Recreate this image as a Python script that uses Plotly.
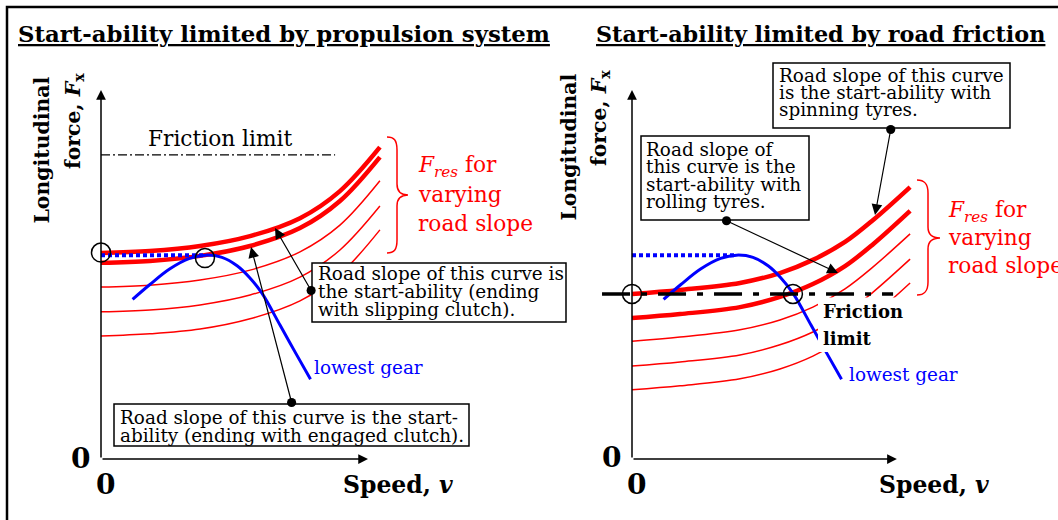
import plotly.graph_objects as go

W, H = 1058, 520

# ---------------- data (schematic units: speed v, longitudinal force F) ----------------
L_SPEED = [0, 18.1, 36.7, 55.2, 73.7, 88.5, 103.3]
L_FRES_THICK = [
    [56.3, 56.8, 58.2, 60.9, 65.8, 73.2, 85.2],
    [53.6, 54.1, 55.5, 58.2, 63.1, 70.5, 82.5],
]
L_FRES_THIN = [
    [47.0, 47.5, 48.9, 51.6, 56.6, 63.9, 76.0],
    [40.2, 40.7, 42.1, 44.8, 49.7, 57.1, 69.1],
    [33.6, 34.2, 35.5, 38.3, 43.2, 50.5, 62.6],
]
R_SPEED = [0, 17.8, 40.0, 54.8, 67.0, 78.9, 89.3, 103.0]
R_FRES_THICK = [
    [45.1, 46.2, 48.1, 50.8, 54.4, 59.3, 65.3, 74.3],
    [38.5, 39.6, 41.5, 44.3, 47.8, 52.7, 58.7, 67.8],
]
R_FRES_THIN = [
    [32.2, 33.3, 35.3, 38.0, 41.5, 46.5, 52.5, 61.5],
    [25.4, 26.5, 28.4, 31.2, 34.7, 39.6, 45.6, 54.6],
    [18.9, 20.0, 21.9, 24.6, 28.1, 33.1, 39.1, 48.1],
]
GEAR_SPEED = [11.7, 18.0, 25.4, 32.8, 38.7, 44.8, 50.4, 55.0, 59.6, 66.3, 71.9, 77.6]
GEAR_FORCE = [43.6, 47.6, 51.9, 54.8, 55.7, 55.1, 52.8, 49.6, 45.3, 36.6, 29.2, 21.8]
PEAK_SPEED = [0, 38.7]
PEAK_FORCE = [55.7, 55.7]
L_FRICTION_SPEED = [0, 86.7]
L_FRICTION_FORCE = [83.1, 83.1]
R_FRICTION_SPEED = [-11.1, 96.7]
R_FRICTION_FORCE = [45.1, 45.1]
L_CIRCLE_SPEED = [0, 38.5]
L_CIRCLE_FORCE = [56.4, 54.9]
R_CIRCLE_SPEED = [0, 59.6]
R_CIRCLE_FORCE = [45.1, 45.1]
AXIS_SPEED_MAX = [98.9, 98.1]
AXIS_FORCE_MAX = 100.8

# ---------------- layout helpers ----------------
XS, YS = 2.7, 3.66          # px per unit
L_ORIGIN, R_ORIGIN, Y_ORIGIN = 101, 632, 459

def X(p):
    return p / W

def Y(p):
    return 1 - p / H

RED, BLUE, BLACK = "#ff0000", "#0000ff", "#000000"
SERIF = "DejaVu Serif"

fig = go.Figure()

def add_line(x, y, xa, color, width, dash=None, shape="spline"):
    fig.add_trace(go.Scatter(x=x, y=y, xaxis=xa, yaxis="y", mode="lines",
                             line=dict(color=color, width=width, dash=dash, shape=shape),
                             hoverinfo="skip", showlegend=False))

# left panel
for ys in L_FRES_THIN:
    add_line(L_SPEED, ys, "x", RED, 1.5)
for ys in L_FRES_THICK:
    add_line(L_SPEED, ys, "x", RED, 4.5)
add_line(L_FRICTION_SPEED, L_FRICTION_FORCE, "x", BLACK, 1.2, "9px,3px,2px,3px", "linear")
add_line(GEAR_SPEED, GEAR_FORCE, "x", BLUE, 3)
add_line(PEAK_SPEED, PEAK_FORCE, "x", BLUE, 4, "4px,3px", "linear")
fig.add_trace(go.Scatter(x=L_CIRCLE_SPEED, y=L_CIRCLE_FORCE, xaxis="x", yaxis="y", mode="markers",
                         marker=dict(symbol="circle-open", size=19, color=BLACK, line=dict(width=1.5, color=BLACK)),
                         hoverinfo="skip", showlegend=False))

# right panel
for ys in R_FRES_THIN:
    add_line(R_SPEED, ys, "x2", RED, 1.5)
for ys in R_FRES_THICK:
    add_line(R_SPEED, ys, "x2", RED, 4.5)
add_line(GEAR_SPEED, GEAR_FORCE, "x2", BLUE, 3)
add_line(PEAK_SPEED, PEAK_FORCE, "x2", BLUE, 4, "4px,3px", "linear")
add_line(R_FRICTION_SPEED, R_FRICTION_FORCE, "x2", BLACK, 3.5, "28px,11px,6px,11px", "linear")
fig.add_trace(go.Scatter(x=R_CIRCLE_SPEED, y=R_CIRCLE_FORCE, xaxis="x2", yaxis="y", mode="markers",
                         marker=dict(symbol="circle-open", size=19, color=BLACK, line=dict(width=1.5, color=BLACK)),
                         hoverinfo="skip", showlegend=False))

annotations = []
shapes = []

def text(px, py, s, size, color=BLACK, xanchor="left", yanchor="middle", angle=0, bg=None):
    a = dict(x=X(px), y=Y(py), xref="paper", yref="paper", text=s, showarrow=False,
             xanchor=xanchor, yanchor=yanchor, textangle=angle,
             font=dict(family=SERIF, size=size, color=color))
    if bg:
        a["bgcolor"] = bg
    annotations.append(a)

def callout(xa, hx, hy, ax, ay):
    annotations.append(dict(x=hx, y=hy, xref=xa, yref="y", ax=ax, ay=ay, axref="pixel", ayref="pixel",
                            text="", showarrow=True, arrowhead=2, arrowsize=1.8, arrowwidth=1.2,
                            arrowcolor=BLACK, arrowside="end+start", startarrowhead=6, startarrowsize=1.9,
                            standoff=0, startstandoff=0))

def axis_arrow(xa, hx, hy):
    annotations.append(dict(x=hx, y=hy, xref=xa, yref="y", ax=0, ay=0, axref=xa, ayref="y",
                            text="", showarrow=True, arrowhead=2, arrowsize=1.3, arrowwidth=1.5,
                            arrowcolor=BLACK, standoff=0))

def rect(x0, y0, x1, y1, lw=1.5, fill="white"):
    shapes.append(dict(type="rect", xref="paper", yref="paper", x0=X(x0), x1=X(x1), y0=Y(y0), y1=Y(y1),
                       line=dict(color=BLACK, width=lw), fillcolor=fill, layer="above"))

def brace(x0, ytop, ybot, xmid, xtip, ytip):
    pts = lambda x, y: f"{X(x):.5f},{Y(y):.5f}"
    path = ("M" + pts(x0, ytop) +
            " C" + pts(x0 + 7, ytop) + " " + pts(xmid, ytop + 3) + " " + pts(xmid, ytop + 13) +
            " L" + pts(xmid, ytip - 11) +
            " C" + pts(xmid, ytip - 3) + " " + pts(xmid + 4, ytip) + " " + pts(xtip, ytip) +
            " C" + pts(xmid + 4, ytip) + " " + pts(xmid, ytip + 3) + " " + pts(xmid, ytip + 11) +
            " L" + pts(xmid, ybot - 13) +
            " C" + pts(xmid, ybot - 3) + " " + pts(x0 + 7, ybot) + " " + pts(x0, ybot))
    shapes.append(dict(type="path", xref="paper", yref="paper", path=path,
                       line=dict(color=RED, width=1.5), layer="above"))

# border
shapes.append(dict(type="rect", xref="paper", yref="paper", x0=X(7), x1=X(1080), y0=Y(7), y1=Y(560),
                   line=dict(color=BLACK, width=2.5), fillcolor="rgba(0,0,0,0)", layer="above"))

# titles
text(16, 34.5, "<b><u>Start-ability limited by propulsion system</u></b>", 22.8)
text(594, 34.5, "<b><u>Start-ability limited by road friction</u></b>", 22.3)

# y-axis labels
for cx1, cx2, top1, top2 in [(42, 74, 75, 71), (569, 600, 72, 68)]:
    text(cx1, top1, "<b>Longitudinal</b>", 20.4, xanchor="center", yanchor="top", angle=-90)
    text(cx2, top2, "<b>force, <i>F</i><sub>x</sub></b>", 20.4, xanchor="center", yanchor="top", angle=-90)

# axes arrows and zeros
axis_arrow("x", AXIS_SPEED_MAX[0], 0)
axis_arrow("x", 0, AXIS_FORCE_MAX)
axis_arrow("x2", AXIS_SPEED_MAX[1], 0)
axis_arrow("x2", 0, AXIS_FORCE_MAX)
for zx, zy in [(80, 458), (105, 484), (611, 457), (636, 484)]:
    text(zx, zy, "<b>0</b>", 28, xanchor="center")
text(341, 485, "<b>Speed, <i>v</i></b>", 23.5)
text(877, 485, "<b>Speed, <i>v</i></b>", 23.5)

# left panel texts
text(146, 138.5, "Friction limit", 21.7)
text(312, 367.5, "lowest gear", 18.4, color=BLUE)
brace(387, 137, 253, 397, 408, 195)
text(416, 167, "<i>F</i><sub><i>res</i></sub> for", 21.7, color=RED)
text(416, 194.5, "varying", 21.7, color=RED)
text(416, 223.5, "road slope", 21.7, color=RED)

rect(312, 263, 566, 322)
for i, s in enumerate(["Road slope of this curve is", "the start-ability (ending", "with slipping clutch)."]):
    text(316, 273.6 + 18 * i, s, 18.4)
rect(114, 404, 469, 446)
for i, s in enumerate(["Road slope of this curve is the start-", "ability (ending with engaged clutch)."]):
    text(118, 417.6 + 18 * i, s, 18.4)
callout("x", (275 - L_ORIGIN) / XS, (Y_ORIGIN - 228) / YS, 37, 64)
callout("x", (251 - L_ORIGIN) / XS, (Y_ORIGIN - 247) / YS, 41, 157)

# right panel texts
shapes.append(dict(type="rect", xref="paper", yref="paper", x0=X(818), x1=X(906), y0=Y(297.5), y1=Y(352),
                   line=dict(width=0), fillcolor="white", layer="above"))
text(821, 311.8, "<b>Friction</b>", 18)
text(821, 338.8, "<b>limit</b>", 18)
text(847, 374.6, "lowest gear", 18.4, color=BLUE)
brace(917, 180, 295, 928, 940, 238)
text(946, 211.5, "<i>F</i><sub><i>res</i></sub> for", 21.7, color=RED)
text(946, 237.5, "varying", 21.7, color=RED)
text(946, 265.5, "road slope", 21.7, color=RED)

rect(773, 63, 1010, 128)
for i, s in enumerate(["Road slope of this curve", "is the start-ability with", "spinning tyres."]):
    text(777, 75.6 + 17 * i, s, 18.4)
rect(641, 136, 809, 220)
for i, s in enumerate(["Road slope of", "this curve is the", "start-ability with", "rolling tyres."]):
    text(644, 149.6 + 17.4 * i, s, 18.4)
callout("x2", (875 - R_ORIGIN) / XS, (Y_ORIGIN - 215) / YS, 16, -87)
callout("x2", (838 - R_ORIGIN) / XS, (Y_ORIGIN - 273) / YS, -113, -53)

fig.update_layout(
    width=W, height=H, autosize=False,
    margin=dict(l=0, r=0, t=0, b=0, pad=0),
    paper_bgcolor="white", plot_bgcolor="white",
    font=dict(family=SERIF, color=BLACK),
    showlegend=False, hovermode=False,
    xaxis=dict(domain=[0, 1], range=[-L_ORIGIN / XS, (W - L_ORIGIN) / XS], visible=False, fixedrange=True),
    xaxis2=dict(domain=[0, 1], range=[-R_ORIGIN / XS, (W - R_ORIGIN) / XS], visible=False,
                overlaying="x", anchor="y", fixedrange=True),
    yaxis=dict(domain=[0, 1], range=[(Y_ORIGIN - H) / YS, Y_ORIGIN / YS], visible=False, fixedrange=True),
    annotations=annotations,
    shapes=shapes,
)

fig.write_html("out.html", config={"displayModeBar": False},
               post_script="document.body.style.margin='0px';document.body.style.overflow='hidden';")
